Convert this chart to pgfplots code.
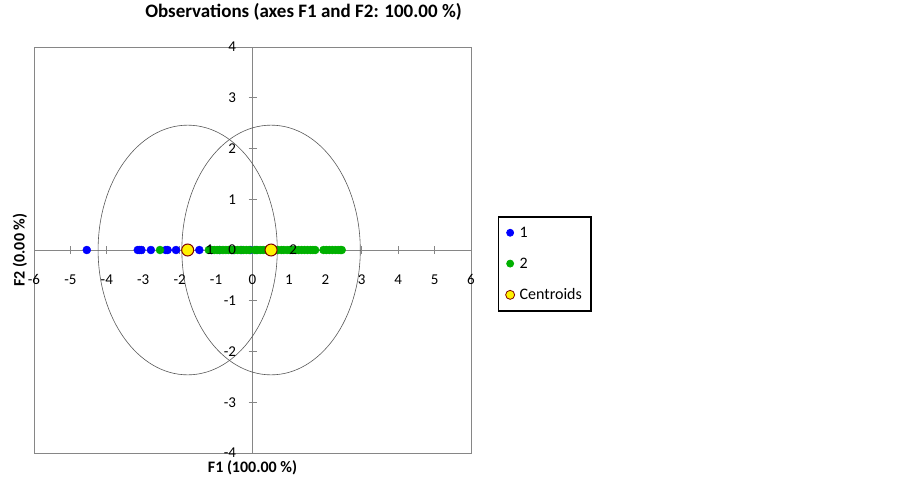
\documentclass[border=0pt]{standalone}
\usepackage{fontspec}
\setmainfont{Carlito}
\usepackage{pgfplots}
\pgfplotsset{compat=1.18}

\definecolor{obsblue}{RGB}{0,0,255}
\definecolor{obsgreen}{RGB}{0,176,0}
\definecolor{axgray}{RGB}{134,134,134}
\definecolor{cenred}{RGB}{128,0,0}

% points above the axis lines, tick labels above the points
\pgfplotsset{
  layers/points over axis/.define layer set={
    axis background,axis grid,axis ticks,axis lines,pre main,main,
    axis tick labels,axis descriptions,axis foreground
  }{/pgfplots/layers/standard},
}

\begin{document}
\begin{tikzpicture}
\begin{axis}[
  set layers=points over axis,
  width=437pt, height=406pt, scale only axis=true,
  xmin=-6, xmax=6, ymin=-4, ymax=4,
  axis lines=middle,
  axis line style={-, axgray, line width=1pt},
  hide obscured x ticks=false, hide obscured y ticks=false,
  xtick={-6,...,6}, ytick={-4,...,4},
  tick align=center, major tick length=8pt,
  tick style={axgray, line width=0.8pt},
  /pgf/number format/assume math mode=true,
  tick label style={font=\fontsize{15}{15}\selectfont},
  xticklabel style={yshift=-17pt},
  yticklabel style={xshift=-9pt},
  clip=false,
  title={Observations (axes F1 and F2: 100.00 \%)},
  every axis title/.style={at={(rel axis cs:0.5,1)}, anchor=center, yshift=35pt, xshift=51pt,
    font=\fontsize{19}{21}\selectfont\bfseries},
  xlabel={F1 (100.00 \%)},
  every axis x label/.style={at={(rel axis cs:0.5,0)}, anchor=center, yshift=-15pt,
    font=\fontsize{16}{18}\selectfont\bfseries},
  ylabel={F2 (0.00 \%)},
  every axis y label/.style={at={(rel axis cs:0,0.5)}, xshift=-14pt, rotate=90, anchor=center,
    font=\fontsize{16}{18}\selectfont\bfseries},
  legend style={at={(rel axis cs:1,0.5)}, anchor=west, xshift=27pt, yshift=-14pt,
    draw=black, line width=1.3pt, font=\fontsize{16}{18}\selectfont,
    row sep=15pt, inner xsep=7pt, inner ysep=8pt, cells={anchor=west},
    /tikz/every odd column/.append style={column sep=3pt}},
  legend image post style={line width=0.8pt},
]
% frame
\draw[axgray, line width=1pt] (rel axis cs:0,0) rectangle (rel axis cs:1,1);
% canvas size
\path (rel axis cs:0,0) ++(-34pt,-27pt) rectangle ++(902pt,480pt);

% confidence ellipses
\draw[black!65, line width=0.6pt] (axis cs:-1.78,0) ellipse [x radius=2.46, y radius=2.46];
\draw[black!65, line width=0.6pt] (axis cs:0.51,0) ellipse [x radius=2.45, y radius=2.46];

\addplot[only marks, mark=*, mark size=4pt, color=obsblue,
  legend image post style={mark size=3.5pt}] coordinates {
  (-4.55,0) (-3.15,0) (-3.10,0) (-3.05,0) (-2.79,0) (-2.38,0) (-2.33,0)
  (-2.10,0) (-1.46,0) (-1.12,0) (-0.90,0) (-0.52,0) (-0.30,0) (-0.06,0) (0.10,0)
};
\addlegendentry{1}

\addplot[only marks, mark=*, mark size=4pt, color=obsgreen,
  legend image post style={mark size=3.5pt}] coordinates {
  (-2.54,0) (-1.20,0) (-1.13,0) (-1.05,0) (-0.97,0) (-0.90,0) (-0.81,0)
  (-0.73,0) (-0.66,0) (-0.57,0) (-0.49,0) (-0.41,0) (-0.33,0) (-0.25,0)
  (-0.17,0) (-0.09,0) (0.06,0) (0.13,0) (0.21,0) (0.29,0) (0.38,0)
  (0.45,0) (0.55,0) (0.62,0) (0.70,0) (0.79,0) (0.86,0) (0.95,0)
  (1.03,0) (1.11,0) (1.19,0) (1.27,0) (1.35,0) (1.43,0) (1.51,0)
  (1.59,0) (1.66,0) (1.72,0) (1.95,0) (2.03,0) (2.11,0) (2.19,0)
  (2.27,0) (2.35,0) (2.41,0) (2.45,0)
};
\addlegendentry{2}

\addplot[only marks, mark=*, mark size=6pt, draw=cenred, fill=yellow, line width=1pt,
  legend image post style={mark size=4.5pt}] coordinates {
  (-1.78,0) (0.51,0)
};
\addlegendentry{Centroids}

\begin{pgfonlayer}{axis foreground}
\node[font=\fontsize{15}{15}\selectfont] at (axis cs:-1.78,0) [xshift=22pt] {1};
\node[font=\fontsize{15}{15}\selectfont] at (axis cs:0.51,0) [xshift=22pt] {2};
\end{pgfonlayer}
\end{axis}
\end{tikzpicture}
\end{document}
